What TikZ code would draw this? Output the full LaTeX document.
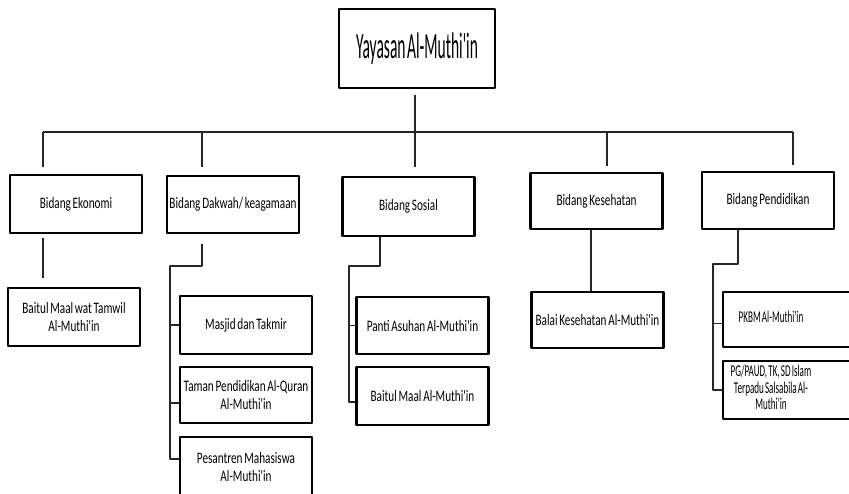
\documentclass[tikz,border=0pt]{standalone}
\usepackage{fontspec}
\setmainfont{Carlito}
\newfontfamily\titlefont[FakeStretch=0.42,WordSpace=0.42]{Carlito}
\newfontfamily\boxfont[FakeStretch=0.7,WordSpace=0.7]{Carlito}
\newfontfamily\tightfont[FakeStretch=0.55,WordSpace=0.55]{Carlito}
\usepackage{tikz}
\usetikzlibrary{calc}

% text of the right-hand column sits left of the box centre
\newcommand\offcentre[1]{\begin{tabular}{@{}c@{}}#1\end{tabular}\hspace*{44pt}}

\begin{document}
\begin{tikzpicture}[x=1pt,y=-1pt,line join=round,
  frame/.style={draw=black,line width=2.3pt,inner sep=0pt,minimum width=132pt,text=black},
  unit/.style={frame,align=center,font=\boxfont\fontsize{16}{17.5}\selectfont},
  unitleft/.style={frame,minimum width=140pt,font=\tightfont\fontsize{16.5}{16.5}\selectfont},
  headbox/.style={draw=black,line width=2.6pt,minimum width=156pt,minimum height=79pt,
    inner sep=0pt,text=black,font=\titlefont\fontsize{37}{40}\selectfont},
  link/.style={draw=black!85,line width=1.2pt},
  bus/.style={draw=black!85,line width=1.8pt}]
  \useasboundingbox (0,0) rectangle (849,493);

  % top
  \node[headbox] (top) at (417,48.5) {Yayasan Al-Muthi'in};

  % first row
  \node[unit,minimum height=58pt] (ekonomi) at (76,204) {Bidang Ekonomi};
  \node[unit,minimum height=57pt] (dakwah) at (233,204.5) {Bidang Dakwah/ keagamaan};
  \node[unit,minimum height=59pt] (sosial) at (408.5,206.5) {Bidang Sosial};
  \node[unit,minimum height=56pt] (kesehatan) at (596.5,201) {Bidang Kesehatan};
  \node[unit,minimum height=57pt] (pendidikan) at (768,200.5) {Bidang Pendidikan};

  % second row
  \node[unit,minimum height=58pt] (bmt) at (74,317) {Baitul Maal wat Tamwil\\Al-Muthi'in};
  \node[unit,minimum height=58pt] (masjid) at (246,325) {Masjid dan Takmir};
  \node[unit,minimum height=56pt] (taman) at (246,395) {Taman Pendidikan Al-Quran\\Al-Muthi'in};
  \node[unit,minimum height=60pt] (pesantren) at (246,467) {Pesantren Mahasiswa\\Al-Muthi'in};
  \node[unit,minimum height=57pt] (panti) at (422.5,325.5) {Panti Asuhan Al-Muthi'in};
  \node[unit,minimum height=58pt] (baitul) at (422.5,396) {Baitul Maal Al-Muthi'in};
  \node[unit,minimum height=56pt] (balai) at (597.5,320) {Balai Kesehatan Al-Muthi'in};
  \node[unitleft,minimum height=55pt] (pkbm) at (793,319.5) {\offcentre{PKBM Al-Muthi'in}};
  \node[unitleft,minimum height=58pt] (pgpaud) at (793,390) {\offcentre{PG/PAUD, TK, SD Islam\\Terpadu Salsabila Al-\\Muthi'in}};

  % bus
  \coordinate (b1) at (43,132);
  \coordinate (b2) at (202,132);
  \coordinate (b3) at (415,132);
  \coordinate (b4) at (607,132);
  \coordinate (b5) at (793,132);
  \draw[bus] (b1) -- (b5);
  \draw[link,shorten <=6pt,shorten >=9pt] (top.south -| b3) -- (b3 |- sosial.north);
  \draw[link,shorten >=7pt] (b1) -- (b1 |- ekonomi.north);
  \draw[link,shorten >=8pt] (b2) -- (b2 |- dakwah.north);
  \draw[link,shorten >=6pt] (b4) -- (b4 |- kesehatan.north);
  \draw[link,shorten >=6pt] (b5) -- (b5 |- pendidikan.north);

  % branches
  \coordinate (dk) at (170,266);
  \coordinate (so1) at (380,266);
  \coordinate (so2) at (349,266);
  \coordinate (ke) at (591,260);
  \coordinate (pe1) at (738,264);
  \coordinate (pe2) at (713,264);

  \draw[link,shorten <=4pt,shorten >=9pt] (b1 |- ekonomi.south) -- (b1 |- bmt.north);

  \draw[link,shorten <=10pt] (b2 |- dakwah.south) -- (b2 |- dk) -- (dk) |- ([yshift=8pt]pesantren.west);
  \draw[link] (dk |- masjid.west) -- (masjid.west);
  \draw[link] ([yshift=-8pt]dk |- taman.west) -- ([yshift=-8pt]taman.west);

  \draw[link] (so1 |- sosial.south) -- (so1) -- (so2) |- ([yshift=-6pt]baitul.west);
  \draw[link] (so2 |- panti.west) -- (panti.west);

  \draw[link] (ke |- kesehatan.south) -- (ke |- balai.north);

  \draw[link] (pe1 |- pendidikan.south) -- (pe1) -- (pe2) |- (pgpaud.west);
  \draw[link] ([yshift=-4pt]pe2 |- pkbm.west) -- ([yshift=-4pt]pkbm.west);
\end{tikzpicture}
\end{document}
